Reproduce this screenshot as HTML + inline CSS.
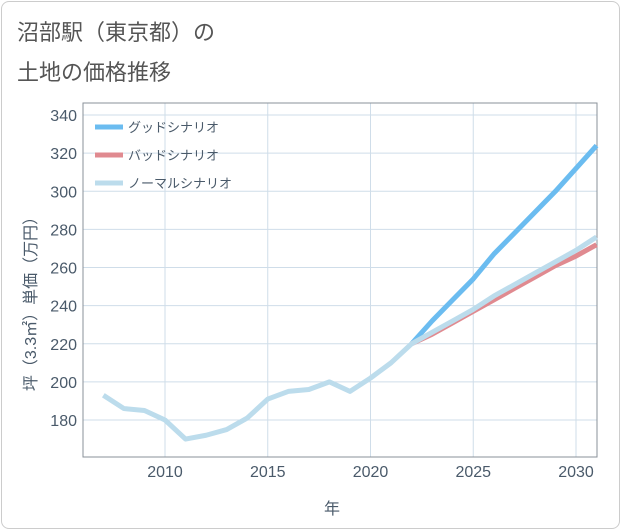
<!DOCTYPE html>
<html><head><meta charset="utf-8"><style>
body{margin:0;background:#fff;font-family:"Liberation Sans","Noto Sans CJK JP",sans-serif;}
#card{position:absolute;left:1px;top:1px;width:617px;height:526px;border:1px solid #ccc;border-radius:8px;background:#fff;}
.t{position:absolute;left:17px;font-size:22px;color:#555;}
</style></head><body>
<div id="card"></div>
<div class="t" style="top:15px">沼部駅（東京都）の</div>
<div class="t" style="top:55px">土地の価格推移</div>
<svg id="c" width="621" height="530" style="position:absolute;left:0;top:0"></svg>
<script>
const years=[2007,2008,2009,2010,2011,2012,2013,2014,2015,2016,2017,2018,2019,2020,2021,2022,2023,2024,2025,2026,2027,2028,2029,2030,2031];
const normal=[193,186,185,180,170,172,175,181,191,195,196,200,195,202,210,220,226,232,238,245,251,257,263,269,276];
const goodYears=[2022,2023,2024,2025,2026,2027,2028,2029,2030,2031];
const good=[220,232,243,254,267,278,289,300,312,324];
const bad=[220,225,231,237,243,249,255,261,266,272];
const xTicks=[2010,2015,2020,2025,2030];
const yTicks=[180,200,220,240,260,280,300,320,340];
const L=83,R=597,T=103,B=457;
const x=v=>165+(v-2010)*20.55;
const y=v=>420-(v-180)*1.906;
const s=document.getElementById('c'),NS='http://www.w3.org/2000/svg';
function mk(t,a,p){const e=document.createElementNS(NS,t);for(const k in a)e.setAttribute(k,a[k]);(p||s).appendChild(e);return e;}
const bg=mk('rect',{x:L,y:T,width:R-L,height:B-T,fill:'#fff',stroke:'none'});


xTicks.forEach(yr=>{const g=mk('line',{x1:x(yr),x2:x(yr),y1:T,y2:B,stroke:'#cfdde9'});

});
yTicks.forEach(v=>{const g=mk('line',{x1:L,x2:R,y1:y(v),y2:y(v),stroke:'#cfdde9'});

});
const fr=mk('rect',{x:L,y:T,width:R-L,height:B-T,fill:'none',stroke:'#8a9098'});


xTicks.forEach(v=>{const t=mk('text',{x:x(v),y:477,'text-anchor':'middle','font-size':16,fill:'#4a5a6a'});t.textContent=v;

});
yTicks.forEach(v=>{const t=mk('text',{x:77,y:y(v)+6,'text-anchor':'end','font-size':16,fill:'#4a5a6a'});t.textContent=v;

});
const xt=mk('text',{x:332,y:514,'text-anchor':'middle','font-size':16,fill:'#4a5a6a'});xt.textContent='年';


const yt=mk('text',{x:0,y:0,'text-anchor':'middle','font-size':16,fill:'#4a5a6a',transform:'translate(36,300) rotate(-90)'});yt.textContent='坪（3.3㎡）単価（万円）';


function line(xs,vs,col,name){const p=mk('polyline',{points:xs.map((yr,i)=>x(yr)+','+y(vs[i])).join(' '),fill:'none',stroke:col,'stroke-width':5,'stroke-linejoin':'round'});

}
line(goodYears,good,'#6bbcf0','good-scenario-line');
line(goodYears,bad,'#e08a90','bad-scenario-line');
line(years,normal,'#bcdcec','normal-scenario-line');
const leg=[['グッドシナリオ','#6bbcf0'],['バッドシナリオ','#e08a90'],['ノーマルシナリオ','#bcdcec']];
leg.forEach((d,i)=>{const yy=127+i*28;
const l=mk('line',{x1:95,x2:123,y1:yy,y2:yy,stroke:d[1],'stroke-width':5});


const t=mk('text',{x:128,y:yy+5,'font-size':13,fill:'#4a5a6a'});t.textContent=d[0];

});
</script>
</body></html>
